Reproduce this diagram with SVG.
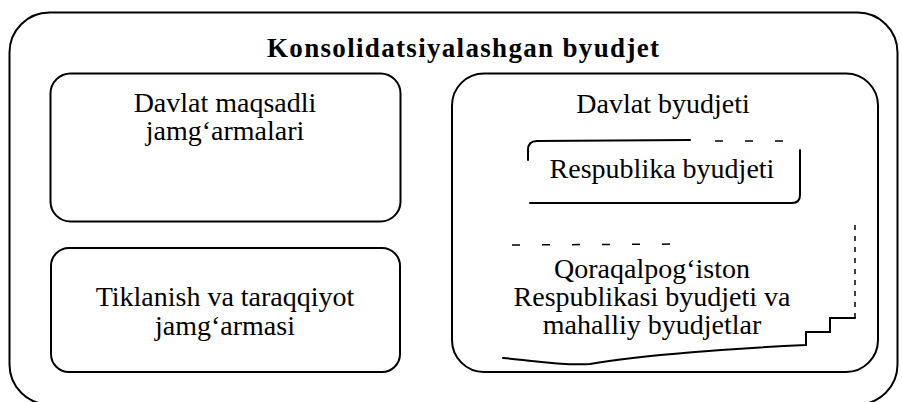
<svg xmlns="http://www.w3.org/2000/svg" width="902" height="402" viewBox="0 0 902 402">
<style>
.box{fill:none;stroke:#000;stroke-width:2}
.ln{fill:none;stroke:#000;stroke-width:2;stroke-linecap:round}
.dash{fill:none;stroke:#000;stroke-width:1.5;stroke-dasharray:5 6}
.sparse{fill:none;stroke:#000;stroke-width:1.5;stroke-dasharray:8 22}
text{font-family:"Liberation Serif","Times New Roman",serif;font-size:28px;fill:#000;text-anchor:middle}
.title{font-weight:bold;font-size:27px}
</style>
<rect width="902" height="402" fill="#fff"/>
<g id="konsolidatsiyalashgan">
<rect class="box" x="9.5" y="12.5" width="888" height="392" rx="40"/>
<text class="title" x="463" y="57" textLength="392">Konsolidatsiyalashgan byudjet</text>
</g>
<g id="maqsadli">
<rect class="box" x="50.5" y="73.5" width="350" height="148" rx="20"/>
<text x="225" y="112">Davlat maqsadli</text>
<text x="225" y="140">jamg‘armalari</text>
</g>
<g id="tiklanish">
<rect class="box" x="51" y="248" width="349" height="124" rx="18"/>
<text x="225" y="306">Tiklanish va taraqqiyot</text>
<text x="225" y="335">jamg‘armasi</text>
</g>
<g id="davlat-byudjeti">
<rect class="box" x="452" y="73.5" width="426" height="298.5" rx="32"/>
<text x="663" y="113">Davlat byudjeti</text>
</g>
<g id="respublika">
<path class="ln" d="M528 160 L528 150 Q528 141 537 141 L690 140"/>
<path class="sparse" d="M715 141 L800 141"/>
<path class="ln" d="M800 150 L800 195 Q800 203 792 203 L530 203"/>
<text x="662" y="178">Respublika byudjeti</text>
</g>
<g id="qoraqalpogiston">
<path class="sparse" d="M512 245 L690 244"/>
<path class="dash" d="M855 225 L855 318"/>
<path class="ln" d="M855 318 L830 318 L830 332 L806 332 L806 345 C740 348 640 355 590 364 C560 366 530 360 503 358"/>
<text x="652" y="278">Qoraqalpog‘iston</text>
<text x="652" y="306">Respublikasi byudjeti va</text>
<text x="652" y="334">mahalliy byudjetlar</text>
</g>
<g id="connectors"/>
</svg>
